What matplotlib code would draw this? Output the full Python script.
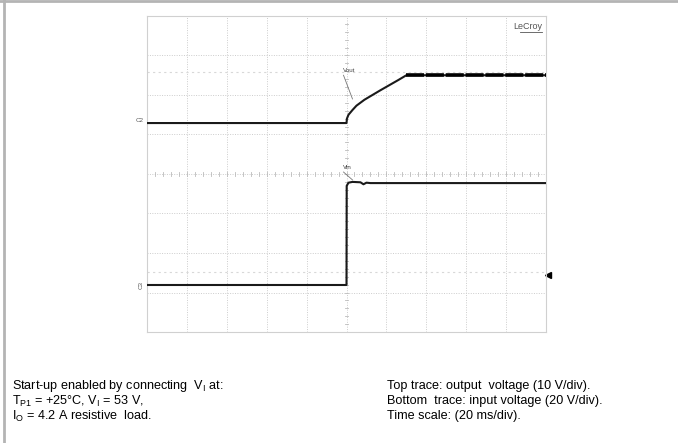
import matplotlib
matplotlib.use("Agg")
import matplotlib.pyplot as plt
import numpy as np

plt.rcParams['font.family'] = ['Liberation Sans', 'DejaVu Sans']
plt.rcParams['mathtext.default'] = 'regular'

# time in ms (20 ms/div, 10 div), levels in screen divisions (8 div)
vout_t = [0, 100, 100.2, 101, 103, 105, 109, 113, 117, 121.5, 126, 130, 200]
vout_y = [5.29, 5.29, 5.40, 5.50, 5.62, 5.73, 5.88, 6.00, 6.12, 6.25, 6.38, 6.50, 6.50]

vin_t = [0, 100, 100.1, 101, 103, 107, 108.5, 110, 112, 200]
vin_y = [1.19, 1.19, 3.70, 3.78, 3.80, 3.79, 3.74, 3.78, 3.77, 3.77]

cursor_levels = [6.58, 1.52]
trig_level = 1.45

fig = plt.figure(figsize=(6.78, 4.43), dpi=100)

# outer frame lines
fig.add_artist(plt.Line2D([0, 1], [0.998, 0.998], color='#b4b4b4', lw=2.0))
fig.add_artist(plt.Line2D([0.0055, 0.0055], [0, 1], color='#b4b4b4', lw=2.0))

ax = fig.add_axes([147/678, 1-332/443, 399/678, 316/443])
ax.set_xlim(0, 200)
ax.set_ylim(0, 8)
ax.set_xticks([])
ax.set_yticks([])
for s in ax.spines.values():
    s.set_color('#d0d0d0')
    s.set_linewidth(0.8)

# grid
for gx in range(20, 200, 20):
    ax.axvline(gx, color='#cccccc', lw=0.7, ls=(0, (1, 1.5)), zorder=1)
for gy in range(1, 8):
    ax.axhline(gy, color='#cccccc', lw=0.7, ls=(0, (1, 1.5)), zorder=1)

# minor ticks on center lines
for tx in np.arange(4, 200, 4):
    ax.plot([tx, tx], [3.94, 4.06], color='#bbbbbb', lw=0.6, zorder=1)
for ty in np.arange(0.2, 8, 0.2):
    ax.plot([99.4, 100.6], [ty, ty], color='#bbbbbb', lw=0.6, zorder=1)

# cursor lines
for cl in cursor_levels:
    ax.axhline(cl, color='#d8d8d8', lw=0.8, ls=(0, (2, 3)), zorder=1)

# traces
ax.plot(vout_t, vout_y, color='#1a1a1a', lw=1.5, zorder=3)
ax.plot(vin_t, vin_y, color='#1a1a1a', lw=1.5, zorder=3)
ax.plot([130, 200], [6.5, 6.5], color='#000000', lw=2.6, ls=(0, (5, 0.5)), zorder=3)

# labels
ax.text(-1.5, 5.36, 'C2', fontsize=4.5, color='#555555', ha='right', va='center')
ax.text(-1.5, 1.2, 'C3', fontsize=4.5, color='#555555', ha='right', va='center', rotation=90)
ax.text(98, 6.55, 'Vout', fontsize=4.5, color='#444444', ha='left', va='bottom')
ax.plot([98.5, 103], [6.5, 5.9], color='#777777', lw=0.6, zorder=2)
ax.text(98, 4.1, 'Vin', fontsize=4.5, color='#444444', ha='left', va='bottom')
ax.plot([98.5, 103], [4.05, 3.85], color='#777777', lw=0.6, zorder=2)
ax.text(198, 7.85, 'LeCroy', fontsize=6.5, color='#555555', ha='right', va='top')
ax.plot([187, 198], [7.6, 7.6], color='#555555', lw=0.6)

# trigger marker
ax.plot([201.2], [trig_level], marker='<', color='black', markersize=4, clip_on=False)

# footer text
fs = 9.1
rows = [386, 401, 416]
fig.text(12/678, 1-rows[0]/443, 'Start-up enabled by connecting  $V_I$ at:', fontsize=fs, va='center')
fig.text(12/678, 1-rows[1]/443, '$T_{P1}$ = +25°C, $V_I$ = 53 V,', fontsize=fs, va='center')
fig.text(12/678, 1-rows[2]/443, '$I_O$ = 4.2 A resistive  load.', fontsize=fs, va='center')
fig.text(387/678, 1-rows[0]/443, 'Top trace: output  voltage (10 V/div).', fontsize=fs, va='center')
fig.text(387/678, 1-rows[1]/443, 'Bottom  trace: input voltage (20 V/div).', fontsize=fs, va='center')
fig.text(387/678, 1-rows[2]/443, 'Time scale: (20 ms/div).', fontsize=fs, va='center')

fig.savefig('out.png', dpi=100)
